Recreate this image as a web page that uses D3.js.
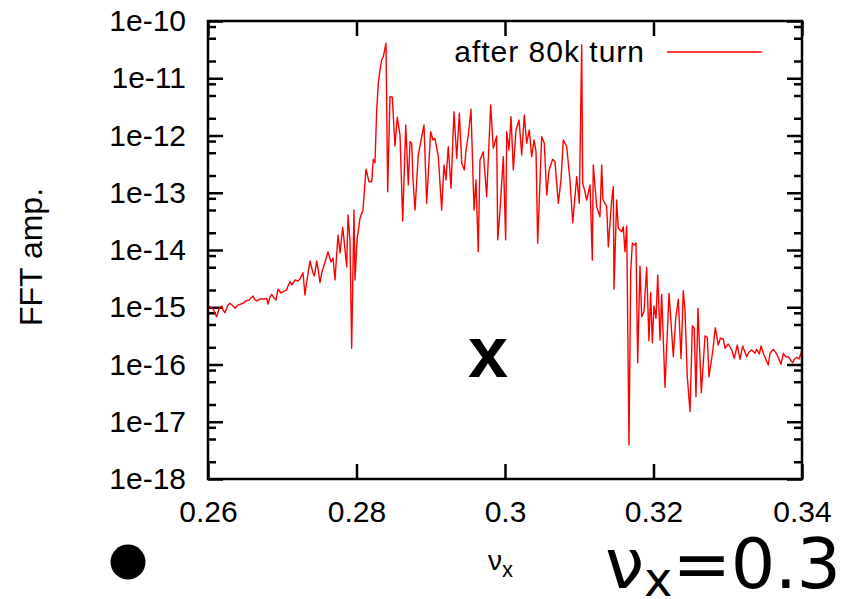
<!DOCTYPE html>
<html>
<head>
<meta charset="utf-8">
<script src="https://cdn.jsdelivr.net/npm/d3@7"></script>
<style>
  body { margin: 0; background: #fff; }
  text { font-family: "Liberation Sans", Arial, sans-serif; fill: #000; }
</style>
</head>
<body>
<svg id="chart" width="843" height="599"></svg>
<script>
// tune nu_x and FFT amplitude
const nu = [
  0.26000, 0.26027, 0.26067, 0.26117, 0.26148, 0.26185, 0.26202, 0.26229, 0.26269, 0.26296,
  0.26337, 0.26364, 0.26404, 0.26444, 0.26471, 0.26512, 0.26552, 0.26579, 0.26606, 0.26633,
  0.26656, 0.26700, 0.26741, 0.26791, 0.26808, 0.26835, 0.26858, 0.26889, 0.26916, 0.26943,
  0.26983, 0.27024, 0.27060, 0.27077, 0.27104, 0.27131, 0.27172, 0.27212, 0.27239, 0.27279,
  0.27306, 0.27333, 0.27374, 0.27414, 0.27434, 0.27464, 0.27481, 0.27508, 0.27535, 0.27576,
  0.27616, 0.27657, 0.27684, 0.27710, 0.27751, 0.27778, 0.27814, 0.27832, 0.27868, 0.27886,
  0.27912, 0.27935, 0.27966, 0.27980, 0.28007, 0.28047, 0.28087, 0.28128, 0.28168, 0.28205,
  0.28226, 0.28249, 0.28272, 0.28294, 0.28316, 0.28339, 0.28361, 0.28397, 0.28420, 0.28451,
  0.28482, 0.28518, 0.28549, 0.28586, 0.28622, 0.28663, 0.28698, 0.28721, 0.28743, 0.28761,
  0.28788, 0.28832, 0.28878, 0.28909, 0.28945, 0.28970, 0.28999, 0.29030, 0.29057, 0.29102,
  0.29147, 0.29178, 0.29205, 0.29236, 0.29273, 0.29313, 0.29350, 0.29385, 0.29417, 0.29452,
  0.29475, 0.29506, 0.29542, 0.29583, 0.29609, 0.29640, 0.29663, 0.29708, 0.29753, 0.29807,
  0.29842, 0.29888, 0.29902, 0.29933, 0.29977, 0.30009, 0.30023, 0.30054, 0.30081, 0.30112,
  0.30148, 0.30189, 0.30225, 0.30260, 0.30292, 0.30327, 0.30360, 0.30391, 0.30418, 0.30440,
  0.30494, 0.30529, 0.30562, 0.30593, 0.30642, 0.30673, 0.30718, 0.30754, 0.30785, 0.30831,
  0.30875, 0.30912, 0.30966, 0.31001, 0.31033, 0.31046, 0.31071, 0.31100, 0.31145, 0.31176,
  0.31189, 0.31235, 0.31279, 0.31302, 0.31320, 0.31370, 0.31391, 0.31437, 0.31459, 0.31468,
  0.31504, 0.31526, 0.31572, 0.31593, 0.31616, 0.31639, 0.31670, 0.31693, 0.31715, 0.31751,
  0.31764, 0.31787, 0.31818, 0.31841, 0.31872, 0.31908, 0.31939, 0.31962, 0.31984, 0.32007,
  0.32034, 0.32057, 0.32088, 0.32110, 0.32155, 0.32209, 0.32232, 0.32267, 0.32299, 0.32334,
  0.32371, 0.32401, 0.32424, 0.32455, 0.32492, 0.32523, 0.32549, 0.32572, 0.32599, 0.32644,
  0.32694, 0.32725, 0.32747, 0.32797, 0.32832, 0.32872, 0.32902, 0.32940, 0.32963, 0.33007,
  0.33053, 0.33088, 0.33129, 0.33165, 0.33201, 0.33255, 0.33286, 0.33323, 0.33367, 0.33390,
  0.33425, 0.33448, 0.33488, 0.33546, 0.33569, 0.33613, 0.33659, 0.33683, 0.33717, 0.33748,
  0.33784, 0.33815, 0.33845, 0.33874, 0.33899, 0.33928, 0.33959, 0.33986, 0.34000
];
const amp = [
  1.05e-15, 1.01e-15, 9.3e-16, 6.8e-16, 9.3e-16, 1.05e-15, 8.95e-16, 8.0e-16, 1.09e-15, 1.17e-15,
  1.05e-15, 9.6e-16, 1.09e-15, 1.14e-15, 1.17e-15, 1.29e-15, 1.34e-15, 1.45e-15, 1.57e-15, 1.34e-15,
  1.29e-15, 1.39e-15, 1.39e-15, 1.43e-15, 1.14e-15, 1.51e-15, 1.68e-15, 1.45e-15, 1.34e-15, 2.06e-15,
  1.77e-15, 1.92e-15, 2.0e-15, 2.35e-15, 2.79e-15, 2.45e-15, 2.99e-15, 2.87e-15, 3.11e-15, 4.01e-15,
  1.64e-15, 2.99e-15, 6.43e-15, 3.97e-15, 3.52e-15, 6.43e-15, 4.85e-15, 2.68e-15, 4.13e-15, 6.17e-15,
  9.34e-15, 6.17e-15, 7.25e-15, 2.99e-15, 1.83e-14, 8.87e-15, 2.49e-14, 1.5e-14, 5.11e-15, 4.09e-14,
  1.5e-14, 1.92e-16, 5.0e-14, 2.99e-15, 1.5e-14, 3.58e-14, 5.0e-14, 2.57e-13, 1.56e-13, 1.56e-13,
  3.84e-13, 3.35e-13, 2.79e-12, 8.16e-12, 1.39e-11, 2.08e-11, 2.38e-11, 4.08e-11, 1.04e-13, 4.76e-12,
  4.65e-12, 6.55e-13, 2.08e-12, 1.02e-12, 3.21e-14, 1.53e-12, 1.37e-13, 7.79e-13, 7.31e-13, 1.67e-13,
  5.0e-14, 4.56e-13, 9.53e-13, 1.53e-12, 6.54e-14, 2.5e-13, 1.17e-12, 8.35e-13, 8.94e-13, 4.26e-13,
  5.0e-14, 3.05e-13, 1.67e-13, 6.37e-13, 1.2e-13, 2.6e-12, 4.0e-13, 2.44e-12, 3.27e-13, 2.5e-13,
  5.58e-13, 1.02e-12, 2.87e-12, 5.0e-14, 1.67e-13, 9.34e-15, 3.73e-13, 5.21e-13, 8.53e-14, 3.41e-12,
  5.98e-13, 9.8e-13, 1.5e-14, 5.0e-14, 4.26e-13, 1.5e-14, 1.17e-12, 5.58e-13, 2.13e-12, 2.5e-13,
  1.25e-12, 1.87e-12, 4.56e-13, 2.28e-12, 7.31e-13, 1.25e-12, 4.26e-13, 8.35e-13, 5.21e-13, 1.31e-14,
  9.53e-13, 7.31e-13, 9.14e-14, 2.5e-13, 3.84e-13, 3.49e-13, 6.54e-14, 1.67e-13, 8.35e-13, 6.37e-13,
  1.67e-13, 3.0e-14, 1.91e-13, 6.54e-14, 3.81e-11, 1.46e-13, 1.12e-13, 7.47e-14, 1.37e-13, 6.69e-15,
  3.05e-13, 5.71e-14, 3.82e-14, 3.05e-13, 7.47e-14, 5.71e-14, 1.14e-14, 7.47e-14, 1.28e-13, 2.06e-15,
  7.47e-14, 2.39e-14, 2.09e-14, 2.55e-14, 9.34e-15, 2.63e-14, 3.93e-18, 4.18e-15, 1.31e-14, 1.22e-14,
  1.34e-14, 1.07e-16, 5.25e-15, 6.84e-16, 8.36e-16, 4.99e-15, 2.6e-16, 1.8e-15, 2.4e-16, 1.05e-15,
  6.41e-16, 3.66e-15, 2.68e-16, 1.68e-15, 4.0e-17, 1.75e-15, 6.41e-16, 1.37e-16, 6.41e-16, 1.38e-15,
  1.28e-16, 1.95e-15, 8.95e-16, 6.12e-17, 1.5e-17, 4.7e-16, 4.29e-16, 2.74e-17, 9.6e-16, 3.22e-17,
  3.15e-16, 2.99e-16, 6.12e-17, 1.67e-16, 4.39e-16, 2.19e-16, 2.9e-16, 2.76e-16, 1.92e-16, 2.28e-16,
  1.79e-16, 1.28e-16, 2.19e-16, 1.23e-16, 2.1e-16, 1.37e-16, 1.65e-16, 1.79e-16, 1.57e-16, 1.84e-16,
  1.53e-16, 2.1e-16, 1.47e-16, 9.8e-17, 1.57e-16, 1.84e-16, 1.53e-16, 1.3e-16, 1.01e-16, 1.57e-16,
  1.35e-16, 1.37e-16, 1.2e-16, 1.07e-16, 1.25e-16, 1.34e-16, 1.25e-16, 1.57e-16, 1.79e-16
];

const xTicks = [0.26, 0.28, 0.3, 0.32, 0.34];
const xTickLabels = ["0.26", "0.28", "0.3", "0.32", "0.34"];
const yTicks = [1e-18, 1e-17, 1e-16, 1e-15, 1e-14, 1e-13, 1e-12, 1e-11, 1e-10];
const yTickLabels = ["1e-18", "1e-17", "1e-16", "1e-15", "1e-14", "1e-13", "1e-12", "1e-11", "1e-10"];
const minorSteps = [2, 5, 8];
const seriesLabel = "after 80k turn";

const svg = d3.select('#chart');
const margin = { top: 21, right: 41, bottom: 120, left: 208 },
    width = +svg.attr('width') - margin.left - margin.right,
    height = +svg.attr('height') - margin.top - margin.bottom;

svg.append('rect').attr('width', 843).attr('height', 599).attr('fill', '#fff');

const g = svg.append('g').attr('transform', `translate(${margin.left},${margin.top})`);

const x = d3.scaleLinear().domain([0.26, 0.34]).range([0, width]);
const y = d3.scaleLog().domain([1e-18, 1e-10]).range([height, 0]);

// minor ticks at 2, 5, 8 inside each decade
const yMinor = [];
yTicks.slice(0, -1).forEach(t => minorSteps.forEach(m => yMinor.push(t * m)));

const tickWidth = 2.5;
function styleAxis(sel) {
    sel.select('.domain').remove();
    sel.selectAll('line').attr('stroke', '#000').attr('stroke-width', tickWidth);
}

// ticks point inwards, gnuplot style
g.append('g')
    .call(d3.axisLeft(y).tickValues(yTicks).tickFormat(d => yTickLabels[yTicks.indexOf(d)]).tickSize(-15).tickPadding(22))
    .call(styleAxis)
    .selectAll('text').attr('font-size', 30).attr('font-family', '"Liberation Sans", Arial, sans-serif');
g.append('g')
    .call(d3.axisLeft(y).tickValues(yMinor).tickFormat('').tickSize(-8))
    .call(styleAxis);
g.append('g').attr('transform', `translate(${width},0)`)
    .call(d3.axisRight(y).tickValues(yTicks).tickFormat('').tickSize(-15))
    .call(styleAxis);
g.append('g').attr('transform', `translate(${width},0)`)
    .call(d3.axisRight(y).tickValues(yMinor).tickFormat('').tickSize(-8))
    .call(styleAxis);

g.append('g').attr('transform', `translate(0,${height})`)
    .call(d3.axisBottom(x).tickValues(xTicks).tickFormat(d => xTickLabels[xTicks.indexOf(d)]).tickSize(-15).tickPadding(22))
    .call(styleAxis)
    .selectAll('text').attr('font-size', 30).attr('font-family', '"Liberation Sans", Arial, sans-serif');
g.append('g')
    .call(d3.axisTop(x).tickValues(xTicks).tickFormat('').tickSize(-15))
    .call(styleAxis);

// spectrum line
g.append('clipPath').attr('id', 'plot-clip')
    .append('rect').attr('width', width).attr('height', height);

const points = nu.map((v, i) => ({ nu: v, amp: amp[i] }));
const line = d3.line().x(d => x(d.nu)).y(d => y(d.amp));
g.append('path')
    .datum(points)
    .attr('clip-path', 'url(#plot-clip)')
    .attr('fill', 'none')
    .attr('stroke', '#ff0000')
    .attr('stroke-width', 1.4)
    .attr('stroke-linejoin', 'round')
    .attr('d', line);

// frame
g.append('rect')
    .attr('width', width).attr('height', height)
    .attr('fill', 'none').attr('stroke', '#000').attr('stroke-width', tickWidth);

// legend
g.append('text')
    .attr('x', 437).attr('y', 41)
    .attr('text-anchor', 'end')
    .attr('font-size', 30)
    .attr('letter-spacing', 1)
    .text(seriesLabel);
g.append('line')
    .attr('x1', 459).attr('x2', 554).attr('y1', 31).attr('y2', 31)
    .attr('stroke', '#ff0000').attr('stroke-width', 1.4);

// big x marker in the plot
g.append('text')
    .attr('x', 280).attr('y', 356)
    .attr('text-anchor', 'middle')
    .attr('font-size', 72).attr('font-weight', 'bold')
    .text('x');

// axis labels
svg.append('text')
    .attr('transform', 'translate(42,257) rotate(-90)')
    .attr('text-anchor', 'middle')
    .attr('font-size', 32)
    .text('FFT amp.');

const xl = svg.append('text').attr('x', 488).attr('y', 570).attr('font-size', 28);
xl.append('tspan').text('ν');
xl.append('tspan').attr('font-size', 22).attr('dy', 7).text('x');

// marker dot and tune annotation
svg.append('circle').attr('cx', 128).attr('cy', 562).attr('r', 17.5).attr('fill', '#000');

const tune = svg.append('text')
    .attr('x', 605).attr('y', 588)
    .style('font-family', '"DejaVu Sans", sans-serif')
    .attr('font-size', 70);
tune.append('tspan').text('ν');
tune.append('tspan').attr('font-size', 48).attr('dy', 8).text('x');
tune.append('tspan').attr('dy', -8).attr('letter-spacing', -0.5).text('=0.3');
</script>
</body>
</html>
